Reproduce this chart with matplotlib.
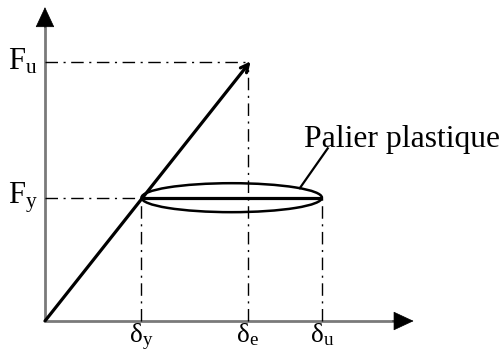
import numpy as np
import matplotlib.pyplot as plt
from matplotlib.patches import Ellipse

plt.rcParams['font.family'] = ['Liberation Serif', 'DejaVu Serif']

# idealised elasto-plastic force / displacement law
disp_marks = [1.0, 2.1, 2.87]          # delta_y, delta_e, delta_u
disp_labels = [r'$\mathregular{\delta_y}$', r'$\mathregular{\delta_e}$', r'$\mathregular{\delta_u}$']
force_marks = [1.0, 2.1]               # F_y, F_u
force_labels = [r'$\mathregular{F_y}$', r'$\mathregular{F_u}$']
elastic_x = [0.0, 2.1]
elastic_y = [0.0, 2.1]
plateau_x = [1.0, 2.87]
plateau_y = [1.0, 1.0]
note = 'Palier plastique'

dy, de, du = disp_marks
fy, fu = force_marks

fig = plt.figure(figsize=(5.02, 3.49), dpi=100)
ax = fig.add_axes([0, 0, 1, 1])
ax.set_xlim(-0.466, 4.736)
ax.set_ylim(-0.227, 2.603)
ax.axis('off')

axis_col = '#7a7a7a'
# axes: grey shafts, black filled heads
ax.plot([0, 3.68], [0, 0], color=axis_col, lw=2, solid_capstyle='butt')
ax.plot([0, 0], [0, 2.45], color=axis_col, lw=2, solid_capstyle='butt')
head = dict(arrowstyle='-|>,head_length=0.75,head_width=0.35', color='black',
            lw=0.5, mutation_scale=18, shrinkA=0, shrinkB=0)
ax.annotate('', xy=(3.82, 0), xytext=(3.6, 0), arrowprops=head)
ax.annotate('', xy=(0, 2.545), xytext=(0, 2.38), arrowprops=head)

# dash-dot guide lines
dd = dict(color='black', lw=1, linestyle=(0, (9, 4, 1.5, 4)))
ax.plot([0, de], [fu, fu], **dd)
ax.plot([de, de], [0, fu], **dd)
ax.plot([0, dy], [fy, fy], **dd)
ax.plot([dy, dy], [0, fy], **dd)
ax.plot([du, du], [0, fy], **dd)

# elastic branch with arrow at the end
ax.annotate('', xy=(elastic_x[1] + 0.03, elastic_y[1] + 0.005),
            xytext=(elastic_x[0], elastic_y[0]),
            arrowprops=dict(arrowstyle='->', color='black', lw=2.3,
                            mutation_scale=14, shrinkA=0, shrinkB=0))
# plastic plateau
ax.plot(plateau_x, plateau_y, color='black', lw=2.3, solid_capstyle='butt')

# ellipse around the plateau
cx = (plateau_x[0] + plateau_x[1]) / 2
w = plateau_x[1] - plateau_x[0]
h = 0.235
ax.add_patch(Ellipse((cx, fy), w, h, fill=False, ec='black', lw=1.8))

# leader line to the note
t = np.deg2rad(41)
px = cx + w / 2 * np.cos(t)
py = fy + h / 2 * np.sin(t)
ax.plot([px, 2.93], [py, 1.40], color='black', lw=1.6)
ax.text(2.68, 1.41, note, fontsize=22.8, ha='left', va='baseline')

for x, lab in zip(disp_marks, disp_labels):
    ax.text(x, 0.0, lab, fontsize=19.5, ha='center', va='top')
for y, lab in zip(force_marks, force_labels):
    ax.text(-0.075, y, lab, fontsize=22, ha='right', va='center')

fig.savefig('out.png', dpi=100)
